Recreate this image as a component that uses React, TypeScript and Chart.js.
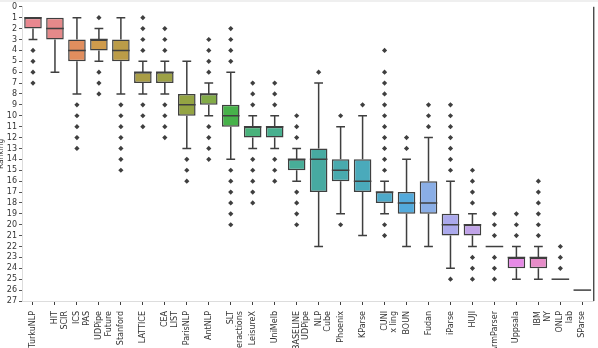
import React, { useEffect, useRef } from "react";
import { Chart, registerables } from "chart.js";

Chart.register(...registerables);

const categories: string[][] = [
  ["TurkuNLP"], ["HIT", "SCIR"], ["ICS", "PAS"], ["UDPipe", "Future"], ["Stanford"],
  ["LATTICE"], ["CEA", "LIST"], ["ParisNLP"], ["AntNLP"], ["SLT", "Interactions"],
  ["LeisureX"], ["UniMelb"], ["BASELINE", "UDPipe"], ["NLP", "Cube"], ["Phoenix"],
  ["KParse"], ["CUNI", "x ling"], ["BOUN"], ["Fudan"], ["iParse"],
  ["HUJI"], ["ArmParser"], ["Uppsala"], ["IBM", "NY"], ["ONLP", "lab"], ["SParse"],
];

const whiskerLow = [1, 1, 1, 2, 1, 5, 5, 5, 7, 6, 10, 10, 13, 7, 11, 10, 16, 14, 12, 16, 19, 22, 22, 22, 25, 26];
const q1 = [1, 1, 3, 3, 3, 6, 6, 8, 8, 9, 11, 11, 14, 13, 14, 14, 17, 17, 16, 19, 20, 22, 23, 23, 25, 26];
const median = [1, 2, 4, 3, 4, 6, 6, 9, 8, 10, 11, 11, 14, 14, 15, 16, 17, 18, 18, 20, 20, 22, 23, 23, 25, 26];
const q3 = [2, 3, 5, 4, 5, 7, 7, 10, 9, 11, 12, 12, 15, 17, 16, 17, 18, 19, 19, 21, 21, 22, 24, 24, 25, 26];
const whiskerHigh = [3, 6, 8, 5, 8, 8, 8, 13, 10, 14, 13, 13, 16, 22, 19, 21, 19, 22, 22, 24, 22, 22, 25, 25, 25, 26];
const outliers: number[][] = [
  [4, 5, 6, 7],
  [],
  [9, 10, 11, 12, 13],
  [1, 6, 7, 8],
  [9, 10, 11, 12, 13, 14, 15],
  [1, 2, 3, 4, 9, 10, 11],
  [2, 3, 4, 9, 10, 11, 12],
  [14, 15, 16],
  [3, 4, 5, 6, 11, 12, 13, 14],
  [2, 3, 4, 5, 15, 16, 17, 18, 19, 20],
  [7, 8, 9, 14, 15, 16, 17, 18],
  [7, 8, 9, 14, 15, 16],
  [10, 11, 12, 17, 18, 19, 20],
  [6],
  [10, 20],
  [9],
  [4, 6, 7, 8, 9, 10, 11, 12, 13, 14, 15, 20, 21],
  [12, 13],
  [9, 10, 11],
  [9, 10, 11, 12, 13, 14, 15, 25],
  [15, 16, 17, 18, 23, 24, 25],
  [19, 20, 21, 23, 24, 25],
  [19, 20, 21],
  [16, 17, 18, 19, 20, 21],
  [22, 23, 24],
  [],
];
const yTicks = Array.from({ length: 28 }, (_, i) => i);

const boxColors = [
  "#e8878f", "#e5898a", "#e18e5e", "#cf9b4c", "#bb9c48", "#a99d45", "#9da145", "#94a443",
  "#82ab47", "#47b24a", "#49b27b", "#48b08f", "#48ad98", "#47aaa1", "#48aaae", "#4aaabb",
  "#4da9c9", "#53aadc", "#8aaee6", "#aba9ec", "#c0a3e8", "#d49de6", "#e68ae6", "#e68cc8",
  "#e88ab0", "#e88a9a",
];

const LINE = "#3f3f3f";

const boxPlugin = {
  id: "boxParts",
  beforeDraw(chart: any) {
    const ctx = chart.ctx;
    ctx.save();
    ctx.fillStyle = "#efefef";
    ctx.fillRect(0, 0, chart.width, 2);
    ctx.restore();
  },
  afterDatasetsDraw(chart: any) {
    const ctx = chart.ctx;
    const xs = chart.scales.x;
    const ys = chart.scales.y;
    const meta = chart.getDatasetMeta(0);
    ctx.save();
    ctx.strokeStyle = LINE;
    ctx.lineWidth = 1.5;
    ctx.lineCap = "butt";
    categories.forEach((_, i) => {
      const el = meta.data[i];
      const cx = el ? el.x : xs.getPixelForValue(i);
      const half = el ? el.width / 2 : 8;
      const yq1 = ys.getPixelForValue(q1[i]);
      const yq3 = ys.getPixelForValue(q3[i]);
      const yLo = ys.getPixelForValue(whiskerLow[i]);
      const yHi = ys.getPixelForValue(whiskerHigh[i]);
      const ym = ys.getPixelForValue(median[i]);
      ctx.beginPath();
      if (whiskerLow[i] < q1[i]) {
        ctx.moveTo(cx, yLo);
        ctx.lineTo(cx, yq1);
        ctx.moveTo(cx - half / 2, yLo);
        ctx.lineTo(cx + half / 2, yLo);
      }
      if (whiskerHigh[i] > q3[i]) {
        ctx.moveTo(cx, yq3);
        ctx.lineTo(cx, yHi);
        ctx.moveTo(cx - half / 2, yHi);
        ctx.lineTo(cx + half / 2, yHi);
      }
      ctx.moveTo(cx - half, ym);
      ctx.lineTo(cx + half, ym);
      ctx.stroke();
    });
    const ca = chart.chartArea;
    ctx.strokeStyle = "#000";
    ctx.lineWidth = 1;
    ctx.beginPath();
    ctx.moveTo(ca.right + 0.5, ca.top);
    ctx.lineTo(ca.right + 0.5, ca.bottom);
    ctx.stroke();
    ctx.restore();
  },
};

export default function App() {
  const ref = useRef<HTMLCanvasElement | null>(null);
  useEffect(() => {
    document.body.style.margin = "0";
    const canvas = ref.current;
    if (!canvas) return;
    const outlierPoints: { x: string[]; y: number }[] = [];
    outliers.forEach((list, i) => list.forEach((v) => outlierPoints.push({ x: categories[i], y: v })));
    const chart = new Chart(canvas, {
      type: "bar",
      data: {
        labels: categories,
        datasets: [
          {
            type: "bar",
            data: categories.map((_, i) => [q1[i], q3[i]]),
            backgroundColor: boxColors,
            borderColor: LINE,
            borderWidth: 1.5,
            borderSkipped: false,
            barPercentage: 0.8,
            categoryPercentage: 1,
          } as any,
          {
            type: "line",
            data: outlierPoints as any,
            showLine: false,
            pointStyle: "rectRot",
            pointRadius: 2.6,
            pointBackgroundColor: LINE,
            pointBorderColor: LINE,
            pointBorderWidth: 0,
          } as any,
        ],
      },
      options: {
        animation: false,
        responsive: false,
        maintainAspectRatio: false,
        layout: { padding: { top: 0, right: 2, left: 0, bottom: 0 } },
        plugins: { legend: { display: false }, tooltip: { enabled: false } },
        font: { family: "DejaVu Sans" },
        scales: {
          x: {
            type: "category",
            offset: true,
            grid: { display: true, drawOnChartArea: false, tickLength: 4, color: LINE, offset: false },
            border: { display: true, color: "#dddddd" },
            ticks: {
              minRotation: 90,
              maxRotation: 90,
              autoSkip: false,
              padding: 6,
              color: "#333",
              font: { family: "DejaVu Sans", size: 8 },
            },
            afterFit: (s: any) => {
              s.height = 47;
            },
          } as any,
          y: {
            min: 0,
            max: 27,
            reverse: true,
            afterBuildTicks: (s: any) => {
              s.ticks = yTicks.map((v) => ({ value: v }));
            },
            grid: { display: true, drawOnChartArea: false, tickLength: 3, color: "#555" },
            border: { display: true, color: "#dddddd" },
            ticks: {
              autoSkip: false,
              padding: 2,
              color: "#333",
              font: { family: "DejaVu Sans", size: 8 },
            },
            title: {
              display: true,
              text: "Ranking",
              color: "#333",
              padding: { top: -3, bottom: 0 },
              font: { family: "DejaVu Sans", size: 7.5 },
            },
            afterFit: (s: any) => {
              s.width = 22;
            },
          } as any,
        },
      },
      plugins: [boxPlugin],
    });
    return () => chart.destroy();
  }, []);
  return (
    <div style={{ width: 598, height: 348 }}>
      <canvas ref={ref} width={598} height={348} style={{ display: "block" }} />
    </div>
  );
}
